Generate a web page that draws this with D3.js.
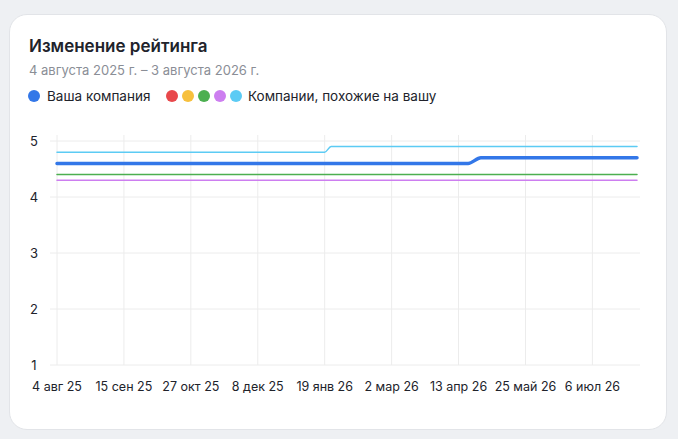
<!DOCTYPE html>
<html><head><meta charset="utf-8">
<script src="https://cdn.jsdelivr.net/npm/d3@7"></script>
<style>
body{margin:0;background:#eef0f3;font-family:Inter,"Noto Sans",sans-serif;}
.card{position:absolute;left:9px;top:14px;width:658px;height:416px;background:#fff;border-radius:18px;border:1px solid #e2e4e8;box-sizing:border-box;}
</style></head><body>
<div class="card"></div>
<svg id="c" width="678" height="439" style="position:absolute;left:0;top:0"></svg>
<script>
var tickDates = ["2025-08-04","2025-09-15","2025-10-27","2025-12-08","2026-01-19","2026-03-02","2026-04-13","2026-05-25","2026-07-06"];
var tickLabels = ["4 авг 25","15 сен 25","27 окт 25","8 дек 25","19 янв 26","2 мар 26","13 апр 26","25 май 26","6 июл 26"];
var yTicks = [1,2,3,4,5];

var ours = [["2025-08-04",4.6],["2026-04-19",4.6],["2026-04-27",4.7],["2026-08-03",4.7]];
var green = [["2025-08-04",4.4],["2026-08-03",4.4]];
var purple = [["2025-08-04",4.3],["2026-08-03",4.3]];
var cyan = [["2025-08-04",4.8],["2026-01-19",4.8],["2026-01-23",4.9],["2026-08-03",4.9]];

var legendColors = ["#e8484b","#f7c03d","#4caf50","#cd7ef0","#5ccbf4"];

var p = d3.utcParse("%Y-%m-%d");
var svg = d3.select("#c");
var x = d3.scaleUtc().domain([p("2025-08-04"), p("2026-08-03")]).range([57, 637]);
var y = d3.scaleLinear().domain([1,5]).range([365,141]);

svg.append("text").attr("x",29).attr("y",52).attr("font-size",17).attr("font-weight",600).attr("fill","#21232b").text("Изменение рейтинга");
svg.append("text").attr("x",29).attr("y",75).attr("font-size",13).attr("fill","#8a8e96").text("4 августа 2025 г. – 3 августа 2026 г.");

var lg = svg.append("g").attr("font-size",13.5).attr("fill","#21232b");
lg.append("circle").attr("cx",34).attr("cy",96).attr("r",6).attr("fill","#3377e8");
lg.append("text").attr("x",47).attr("y",101).text("Ваша компания");
legendColors.forEach(function(c,i){
  lg.append("circle").attr("cx",172+i*16).attr("cy",96).attr("r",6).attr("fill",c);
});
lg.append("text").attr("x",248).attr("y",101).text("Компании, похожие на вашу");

var g = svg.append("g");
g.selectAll(".vg").data(tickDates).enter().append("line")
  .attr("x1",function(d){return x(p(d));}).attr("x2",function(d){return x(p(d));})
  .attr("y1",135).attr("y2",365).attr("stroke","#ececec");
g.selectAll(".hg").data(yTicks).enter().append("line")
  .attr("x1",50).attr("x2",640).attr("y1",y).attr("y2",y).attr("stroke","#ececec");
g.selectAll(".yl").data(yTicks).enter().append("text")
  .attr("x",34).attr("y",function(d){return y(d)+5;}).attr("font-size",13).attr("fill","#21232b").attr("text-anchor","middle").text(function(d){return d;});
g.selectAll(".xl").data(tickDates).enter().append("text")
  .attr("x",function(d,i){return x(p(d));}).attr("y",391).attr("font-size",12.5).attr("fill","#21232b").attr("text-anchor","middle")
  .text(function(d,i){return tickLabels[i];});

var line = d3.line().x(function(d){return x(p(d[0]));}).y(function(d){return y(d[1]);}).curve(d3.curveMonotoneX);
[[purple,"#cd7ef0",1.5],[green,"#4caf50",1.5],[cyan,"#5ccbf4",1.5],[ours,"#3377e8",3.5]].forEach(function(s){
  g.append("path").attr("d",line(s[0])).attr("fill","none").attr("stroke",s[1]).attr("stroke-width",s[2]).attr("stroke-linecap","round");
});
</script>
</body></html>
